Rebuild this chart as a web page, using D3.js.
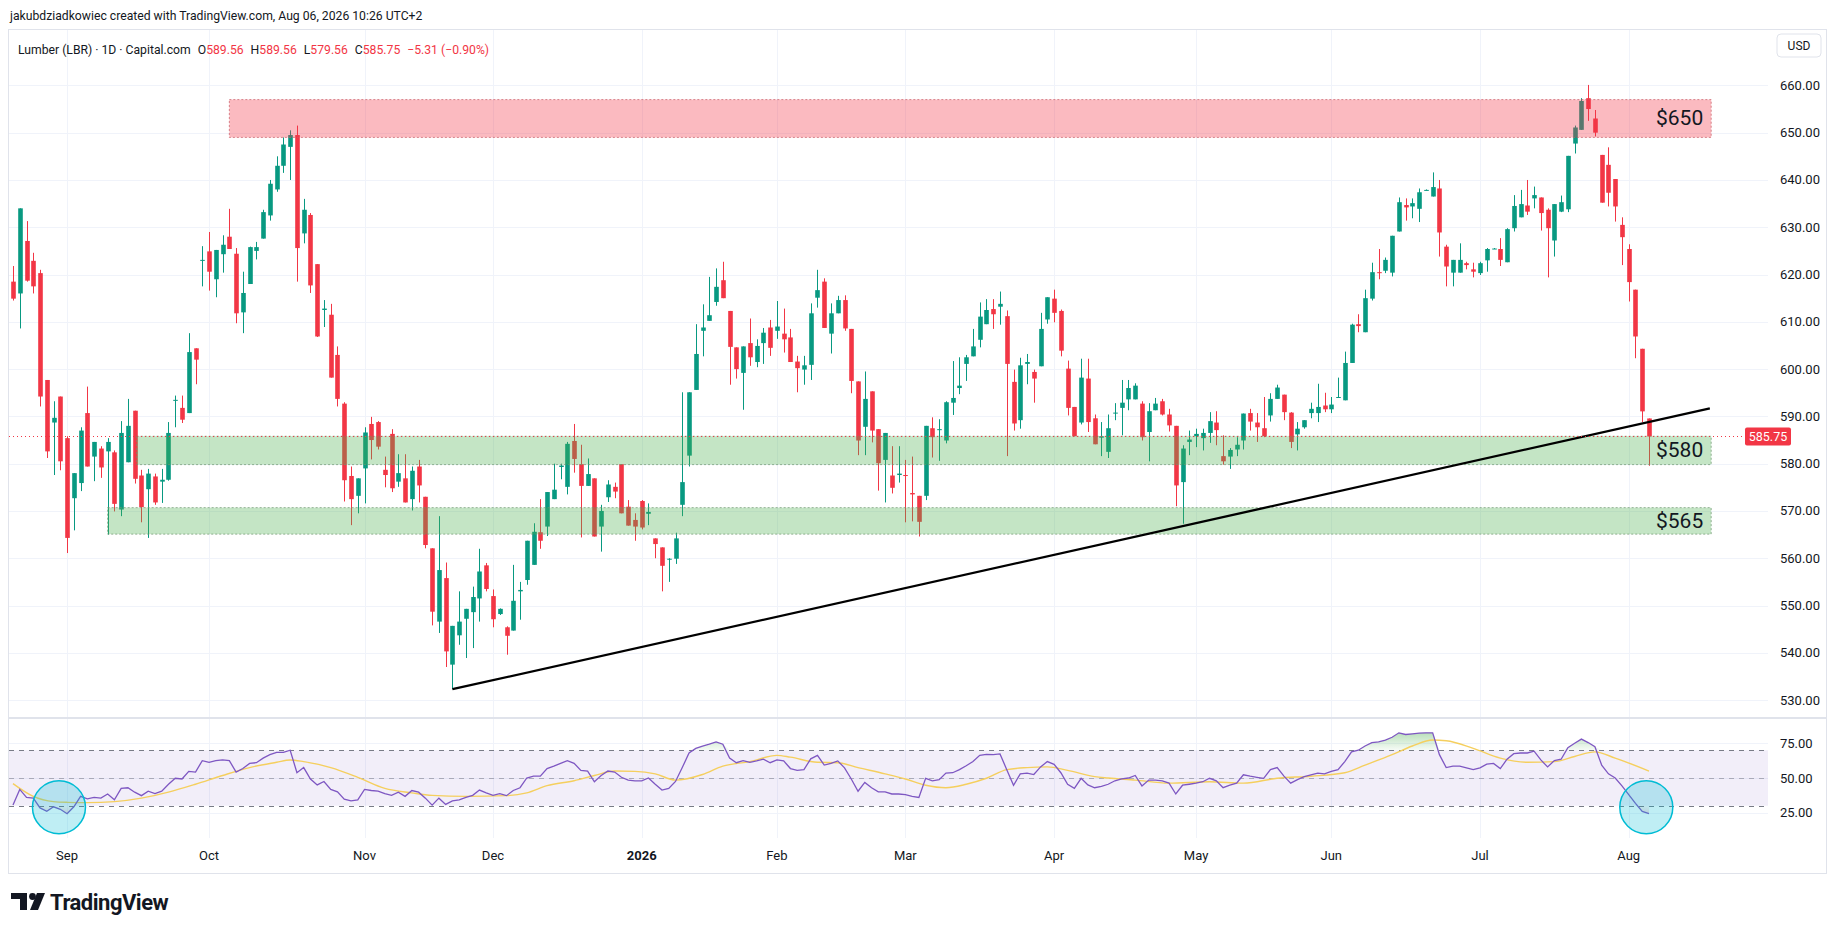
<!DOCTYPE html>
<html>
<head>
<meta charset="utf-8">
<script src="https://cdn.jsdelivr.net/npm/d3@7"></script>
<style>
  body { margin: 0; background: #fff; }
  svg { display: block; font-family: Roboto, "Noto Sans", sans-serif; }
</style>
</head>
<body>
<div id="chart"></div>
<script>
// Lumber (LBR) daily candles, Aug 20 2025 -> Aug 06 2026
const opens = [
  618.5,616,627.1,622.9,620.3,597.7,588.7,594.2,585.4,572.7,
  575.9,590.7,581.5,583.2,582.6,582.4,570.3,580.3,591.2,577.5,
  574.6,577.3,576.2,576.6,593.3,591.8,590.7,604.4,622.9,624.9,
  619,624.3,628,624.4,612,618,625,627.6,632.5,638,
  643,647,649.5,628.7,632.6,622.2,612.5,611.5,603,592.7,
  577.4,573.2,579,588.4,588.8,578.7,586.3,576.2,576.9,572.5,
  579.4,573,562.1,546.6,555.8,537.5,543.7,547.2,548.6,551.5,
  558.5,552,548.2,545.4,544.7,553,555.4,558.6,565.5,566.7,
  572.5,579.3,575.1,584.8,579.9,575.3,576.9,566.7,572.9,575.1,
  579.9,570.9,568.1,572.1,569.4,564.2,562.3,559.7,559.9,571.3,
  581.7,595.6,608.1,610.2,614.2,618.8,612.3,604.6,599.2,605.5,
  601.5,605.5,608.8,608.1,607.5,606.7,601.6,599.9,600.9,615.1,
  618.5,607.5,611.8,614.6,608.5,597.4,587.8,595.3,587.3,580.8,
  577.5,577.6,577.6,573.8,573.2,573.2,587.5,587.1,584.9,592.9,
  596,601.1,602.7,606.2,609.5,612.7,613.2,611.2,597.3,589.2,
  601.1,599.4,600.6,610.5,614.9,612.3,600.1,592,588.7,598,
  589.6,585.5,582.5,590.6,591.8,593.6,593.6,592.7,586.7,591.3,
  593.2,590.4,588,576.1,584.6,585.8,585.4,586.5,588.7,581.6,
  581.5,583,584.9,590.7,588.7,587.5,590.2,593.7,594.6,590.8,
  586.2,587.7,590.7,590.7,592.3,591.5,593.9,593.4,601.3,609.5,
  607.8,614.9,620.5,620.8,620.4,629.1,634.7,634.4,633.9,637.8,
  636.5,638.2,625.9,620.4,620.4,622.4,621.1,620.3,623,625.4,
  625.4,622.6,629.8,632.1,634.6,636.1,636.3,633.7,627.2,633.3,
  633.8,647.7,650.6,657.3,653,645.3,643.2,640.2,630.5,625.4,
  616.8,604.3,589.56
];
const highs = [
  621.8,634,631.3,624.6,621,597.7,593.2,594.2,585.8,578,
  587.7,596.3,584.6,583.7,585.4,582.8,589,593.7,591.2,578.7,
  578.9,577.9,578.9,588.8,594.4,594.4,607.6,604.4,626,629,
  625.2,628.3,633.9,625.6,620.6,625.9,626.9,633.7,640,645,
  649,650.5,651.5,636,633,622.2,614.6,613.8,604.8,593,
  579.4,576.9,587.7,589.9,589,581.5,587.3,582,582,579.4,
  580.8,573,562.1,568.9,559.1,545.7,553,549.3,554,562,
  559,553.4,549.4,545.6,558.6,555,563.7,567.4,572.5,574,
  580,580,584.6,588.4,584,581.1,576.9,571.3,576.5,576,
  579.9,572.3,569.5,572.3,571.6,564.2,562.3,560,565.4,595.1,
  595.1,609.5,613.7,619.5,621.3,622.7,612.3,604.6,604.8,610.7,
  606.3,608.7,610.4,614.4,612.8,608.5,602.8,602.8,613.9,621,
  619.2,613.9,615.5,615.6,608.5,597.4,599.5,595.3,587.3,586.5,
  583.7,583.7,580.8,581.5,573.2,588,589.8,589.4,593.2,601.7,
  602.5,603,608.5,614.1,614.8,614.8,616.4,612.4,599.9,602.4,
  603.2,599.9,611.9,615.2,616.8,612.6,601.8,592,602.2,602.2,
  590.4,588.8,590.4,592.8,597.7,597.7,597,593.2,592.8,593.9,
  593.7,591.6,588,583.9,587,587.4,587.4,590.9,591.1,586,
  583.3,585.6,590.6,591.6,590.7,594.1,594.9,596.7,594.6,590.9,
  588.8,589.2,592.9,596.9,595,594.1,598.2,603.7,609.6,611.6,
  616.8,622.5,625.4,623.6,628.2,636.3,636.1,636.1,638.2,638,
  641.6,640,626.3,623.1,626.6,622.7,622.5,622.7,625.6,625.6,
  627.7,629.8,636.8,637.9,640,638.6,636.3,634,634.9,636.7,
  645.1,651.5,657.3,660.1,654.8,645.3,646.9,640.2,632.1,626.4,
  616.8,604.3,589.56
];
const lows = [
  614.5,608.6,618.5,616,592.1,581.2,577.6,578.6,561.1,565.9,
  574.2,579.4,576.3,577,565,569.9,568.9,580.3,575.8,567.6,
  564.3,571.3,571.7,576.4,587.7,588.6,590.7,596.8,617.5,616.6,
  615.2,620.4,625.4,609.7,607.6,618,623.2,627.6,631.4,637.5,
  641.5,640,618.5,626.6,616.1,606.8,608.9,598.2,592.1,572,
  567,569.5,571.6,580.9,583,575,574,575.1,571.8,570.1,
  571.8,562.1,545.8,544.2,537,532.3,541.7,538.9,541,546.6,
  553,545.4,548,539.6,544.7,547,554.4,558.6,562,564.7,
  572.5,576.7,573.5,578.1,564.4,575.3,564.6,561.4,571.9,572.7,
  569.5,566.9,563.7,566.1,567,560,553,555,558.8,568.9,
  579.4,595.6,602.7,610.2,613.4,615,596.7,598,591.4,600.7,
  600.4,601.1,602.8,606.4,603.5,601.5,595.1,596.7,597.7,613,
  608.7,603.3,611.8,608.1,594.9,581.8,581.8,584.5,574.3,571.8,
  573.7,576,567.6,567.8,564.6,572.3,581.3,580.6,584.3,590.3,
  594.7,597.5,602.7,604.6,609.5,608.5,609.4,581.6,587,587.4,
  596.8,592.9,600.6,609.6,609.9,602.7,590.2,585.8,588.3,586.7,
  584.1,581.6,581.2,589.2,586,591.3,593.6,584.9,580.5,591.3,
  590.2,586.8,571,567.3,581.8,583.5,582.8,584.4,583.9,579.8,
  578.9,581.6,583,587,584.6,585.6,588.9,593.7,589.2,583.3,
  582.8,587.4,589.6,588.8,590.9,590.7,593.9,593.4,601.3,607.8,
  607.8,614.5,619,620.3,619.6,629.1,631.4,631.9,631.1,637.8,
  636.5,623.8,617.5,617.5,620.4,621.1,619.4,619.9,620.6,625.4,
  621.8,622.6,629.1,632.1,632.6,634,629.3,619.4,623.8,633.2,
  633.2,645.6,650.6,652.5,649.2,635.2,634.4,631.2,622,614.3,
  602.3,588.8,579.56
];
const closes = [
  614.9,634,618.7,617.5,594.2,582.6,589.7,580.5,564.3,578,
  587,579.4,584.6,579.2,584.6,571.5,586.5,588,576.8,570.8,
  577.9,571.8,576.6,586.5,593.5,589.3,603.6,602,623.1,620.6,
  625.2,626.3,625.4,611.8,616.1,625.8,625.8,633.2,639.2,643,
  647.5,649.5,625.6,633.7,617.7,606.9,612.8,598.2,593.7,576.5,
  572.5,576.9,586.6,585,583.6,577.6,574.8,578,571.8,578.5,
  575.4,562.8,548.7,557.5,540.3,545.7,546.6,549.3,551.8,557.2,
  553.5,547.1,549.3,543.6,551,553.3,563.7,565.6,563.7,574,
  574.5,579.6,584.2,581,575.3,577.8,564.6,570,575.6,574.1,
  569.5,566.9,566.7,566.5,569.8,563,558.4,559.9,564.2,576.1,
  595.1,603.2,608.8,611.4,617.4,615,604.7,600,604.8,602.5,
  604.9,607.7,604.5,609,606.3,601.5,600.2,600.8,611.8,616.7,
  608.7,611.8,614.6,608.6,597.5,584.9,593.7,587,580.1,586.5,
  574.9,577.9,577.4,573.5,567.7,588,585.6,587.3,593,593.9,
  596.5,602.5,604.8,611.1,612.5,611.6,613.8,601.1,588.5,600.8,
  601.5,598,608.5,615.2,611.9,603.9,591.8,585.8,598.2,588.8,
  584.1,585.8,587.5,590.8,592.9,596,596.5,585.6,591.1,592.7,
  590.4,588.1,575.4,583.2,585.1,586.3,586.5,589,587.1,580.5,
  582.9,584,590.6,588.9,587.7,585.8,593.7,596.1,590.9,584.6,
  587.4,589.2,591.6,592,591.5,592.5,594.1,601.3,609.4,609.1,
  615,620.5,620.3,623.1,628.2,635.3,634.2,635.1,637.4,637.9,
  638.5,628.9,621.7,623.1,623.1,622,620.6,622.4,625.4,625.5,
  623.1,629.6,634.5,634.9,633.3,636.8,633,629.8,634.9,635.3,
  645.1,651.1,656.7,655,650,635.2,637.3,634.4,627.9,618.4,
  606.9,591.06,585.75
];

// RSI (14) per bar
const rsiValues = [
  30.5,41.8,36,35.5,28.5,26,29.3,27.5,24.3,29.3,
  36.8,35,36,35.5,38.5,34.3,42.5,43,39.8,37.3,
  40.5,38.8,40.5,45.5,49.8,49.3,54.8,54.3,62.5,61.3,
  62.5,63,62.5,54.3,56.8,60.5,61,64.3,66.8,68.5,
  68.5,70,53.8,57.5,49.3,45,47.5,41.8,40,34.8,
  33.5,34.3,41.8,41,40.5,38.8,37.5,39.8,36.8,41,
  39.8,35.5,30.5,35.5,31,33.5,34.3,36,37.5,41.3,
  39.3,37.5,38.8,37.3,41,43,50,51.3,51.3,56.8,
  58.5,60.5,62.5,60.5,55.5,55,47.3,51.8,55,54.3,
  50.5,48.5,48,48,50,45.5,41.3,42.5,47.5,57.5,
  68,71.3,73,74.3,76,74.3,64.3,61,62.5,61.3,
  62.3,63.5,61,63,62.3,56.8,55.5,56,63.8,66.3,
  59.3,60.5,62.3,57.3,49.3,40.5,46.8,43,40,40,
  38.5,38.5,38,36.8,36,49.8,48,48.8,53.5,53.8,
  56,58.8,61.8,66.3,67,66.8,67.3,56,44.8,53,
  53.5,52.5,58,61.8,59.8,53.8,45.5,42.5,49.8,45,
  43,44,45.5,48,49.3,50,51.8,44.3,48.5,48.5,
  48,46.3,38.5,44.8,45.5,46.3,47.3,49.8,48,43,
  44.8,46.3,52.3,51.3,50.5,49.8,56,57.5,51.3,46.3,
  48.8,51,52.3,53.5,53,54.8,56,61.8,68.8,70,
  73,75.5,76,77.3,79.3,82.5,81.3,81.8,82.3,82.5,
  82.5,66.8,57.5,58.5,58.5,57.3,56,57.3,60,60.5,
  56.8,63.5,67.5,68,68,69.3,63,58,62.5,63.5,
  71.8,75,78,75.5,72.5,59.3,53,50,44.3,38,
  31.8,26,24.3
];
// RSI-based moving average, [bar, value] read at points along the yellow curve
const rsiMaPoints = [
  [0,46],[3,36.8],[6,33],[8,32.5],[11,32.3],[15,33],[19,35.5],[23,39.8],[27,45.5],[31,51.8],
  [35,57.5],[39,61.3],[41,63],[43,61.8],[47,57.5],[51,50.5],[55,42.5],[59,39.3],[62,37.5],[67,36.8],
  [73,37.3],[76,39.3],[79,44.5],[83,48],[86,51.8],[89,55],[92,54.8],[95,53],[98,48.5],[102,52.5],
  [105,58.5],[109,61.8],[113,66.3],[115,65],[119,61.3],[122,61],[125,57.5],[129,53],[132,49.3],[135,44.8],
  [138,43],[141,45.5],[144,49.8],[147,56],[150,57.5],[153,58],[156,55.5],[160,51],[162,50],[166,48.5],
  [171,46.3],[177,47.3],[182,46.3],[187,49.8],[192,51.3],[197,53.8],[200,59.3],[204,66.8],[207,73],[210,77.3],
  [212,76.8],[216,71.3],[220,64.3],[224,61.3],[228,61.8],[231,65.5],[234,68.8],[237,64.3],[242,55]
];

const monthLabels = ["Sep","Oct","Nov","Dec","2026","Feb","Mar","Apr","May","Jun","Jul","Aug"];
const monthBars = [8,29,52,71,93,113,132,154,175,195,217,239];
const priceTicks = [530,540,550,560,570,580,590,600,610,620,630,640,650,660];
const rsiTicks = [25,50,75];
const rsiLevels = [70,50,30];

// drawings
const zoneLabels = ["$650","$580","$565"];
const zoneLow = [649,579.8,565.1];
const zoneHigh = [657,585.8,570.7];
const zoneFrom = [32,18.3,14];
const zoneTo = [251.2,251.2,251.2];
const trendBars = [65,251];
const trendPrices = [532.3,591.7];
const circleBars = [6.8,241.6];
const circleRsi = [29,29];

const W = 1835, H = 931;
const GREEN = "#089981", RED = "#F23645", TXT = "#131722";
const N = closes.length;

const svg = d3.select("#chart").append("svg")
  .attr("width", W).attr("height", H)
  .attr("viewBox", [0, 0, W, H]);

const x = d3.scaleLinear().domain([0, N - 1]).range([13, 1649]);
const y = d3.scaleLinear().domain([530, 660]).range([700.1, 85.4]);
const yR = d3.scaleLinear().domain([30, 70]).range([805.8, 750.2]);

const frameL = 9, frameR = 1826, plotR = 1768;
const frameT = 30, mainB = 717, rsiT = 719, rsiB = 838, frameB = 873;

svg.append("rect").attr("width", W).attr("height", H).attr("fill", "#fff");

const defs = svg.append("defs");
defs.append("clipPath").attr("id", "clipMain").append("rect")
  .attr("x", frameL).attr("y", frameT).attr("width", plotR - frameL).attr("height", mainB - frameT);
defs.append("clipPath").attr("id", "clipRsi").append("rect")
  .attr("x", frameL).attr("y", rsiT).attr("width", plotR - frameL).attr("height", rsiB - rsiT);
const gradUp = defs.append("linearGradient").attr("id", "obFill")
  .attr("gradientUnits", "userSpaceOnUse").attr("x1", 0).attr("x2", 0)
  .attr("y1", yR(85)).attr("y2", yR(70));
gradUp.append("stop").attr("offset", 0).attr("stop-color", "rgba(76,175,80,0.45)");
gradUp.append("stop").attr("offset", 1).attr("stop-color", "rgba(76,175,80,0.05)");
const gradDn = defs.append("linearGradient").attr("id", "osFill")
  .attr("gradientUnits", "userSpaceOnUse").attr("x1", 0).attr("x2", 0)
  .attr("y1", yR(30)).attr("y2", yR(15));
gradDn.append("stop").attr("offset", 0).attr("stop-color", "rgba(242,54,69,0.05)");
gradDn.append("stop").attr("offset", 1).attr("stop-color", "rgba(242,54,69,0.4)");

// header
svg.append("text").attr("x", 10).attr("y", 20).attr("font-size", 12.2).attr("fill", TXT)
  .text("jakubdziadkowiec created with TradingView.com, Aug 06, 2026 10:26 UTC+2");

// frame
svg.append("rect").attr("x", frameL - 0.5).attr("y", frameT - 0.5)
  .attr("width", frameR - frameL + 1).attr("height", frameB - frameT + 1)
  .attr("fill", "none").attr("stroke", "#e0e3eb");

// grid
const grid = svg.append("g").attr("stroke", "#f0f3fa").attr("stroke-width", 1);
grid.selectAll("line.h").data(priceTicks).join("line")
  .attr("x1", frameL).attr("x2", plotR)
  .attr("y1", d => Math.round(y(d)) + 0.5).attr("y2", d => Math.round(y(d)) + 0.5);
grid.append("g").selectAll("line").data(rsiTicks).join("line")
  .attr("x1", frameL).attr("x2", plotR)
  .attr("y1", d => Math.round(yR(d)) + 0.5).attr("y2", d => Math.round(yR(d)) + 0.5);
grid.append("g").selectAll("line").data(monthBars).join("line")
  .attr("x1", d => Math.round(x(d)) + 0.5).attr("x2", d => Math.round(x(d)) + 0.5)
  .attr("y1", frameT).attr("y2", rsiB);

// pane separator
svg.append("line").attr("x1", frameL).attr("x2", frameR).attr("y1", mainB + 1).attr("y2", mainB + 1)
  .attr("stroke", "#e0e3eb").attr("stroke-width", 2);

// legend
const legend = svg.append("text").attr("x", 18).attr("y", 54).attr("font-size", 12.2).attr("fill", TXT);
const last = N - 1;
const chg = closes[last] - closes[last - 1];
const sign = v => (v < 0 ? "\u2212" : "+");
const legendParts = [
  ["Lumber (LBR) · 1D · Capital.com", TXT, 0],
  ["O", TXT, 7], [opens[last].toFixed(2), RED, 0],
  ["H", TXT, 7], [highs[last].toFixed(2), RED, 0],
  ["L", TXT, 7], [lows[last].toFixed(2), RED, 0],
  ["C", TXT, 7], [closes[last].toFixed(2), RED, 0],
  [sign(chg) + Math.abs(chg).toFixed(2) + " (" + sign(chg) +
    Math.abs(chg / closes[last - 1] * 100).toFixed(2) + "%)", RED, 7]
];
legend.selectAll("tspan").data(legendParts).join("tspan")
  .attr("dx", d => d[2]).attr("fill", d => d[1]).text(d => d[0]);

// candles
const bars = d3.range(N).map(i => ({ i, o: opens[i], h: highs[i], l: lows[i], c: closes[i] }));
const main = svg.append("g").attr("clip-path", "url(#clipMain)");
const bw = 4.6;
main.append("g").selectAll("line").data(bars).join("line")
  .attr("x1", d => Math.round(x(d.i)) + 0.5).attr("x2", d => Math.round(x(d.i)) + 0.5)
  .attr("y1", d => y(d.h)).attr("y2", d => y(d.l))
  .attr("stroke", d => d.c >= d.o ? GREEN : RED).attr("stroke-width", 1);
main.append("g").selectAll("rect").data(bars).join("rect")
  .attr("x", d => Math.round(x(d.i)) + 0.5 - bw / 2)
  .attr("y", d => y(Math.max(d.o, d.c)))
  .attr("width", bw)
  .attr("height", d => Math.max(1, Math.abs(y(d.o) - y(d.c))))
  .attr("fill", d => d.c >= d.o ? GREEN : RED);

// zones
const zones = zoneLabels.map((label, k) => ({
  label, lo: zoneLow[k], hi: zoneHigh[k], from: zoneFrom[k], to: zoneTo[k], up: k === 0
}));
const zg = main.append("g");
zg.selectAll("rect").data(zones).join("rect")
  .attr("x", d => x(d.from)).attr("width", d => x(d.to) - x(d.from))
  .attr("y", d => y(d.hi)).attr("height", d => y(d.lo) - y(d.hi))
  .attr("fill", d => d.up ? "rgba(242,54,69,0.34)" : "rgba(76,175,80,0.33)")
  .attr("stroke", d => d.up ? "rgba(200,90,100,0.7)" : "rgba(110,150,110,0.7)")
  .attr("stroke-dasharray", "2,2").attr("stroke-width", 1);
zg.selectAll("text").data(zones).join("text")
  .attr("x", d => x(d.to) - 8).attr("y", d => (y(d.hi) + y(d.lo)) / 2 + 7)
  .attr("text-anchor", "end").attr("font-size", 21).attr("fill", TXT)
  .text(d => d.label);

// trend line
main.append("line")
  .attr("x1", x(trendBars[0])).attr("y1", y(trendPrices[0]))
  .attr("x2", x(trendBars[1])).attr("y2", y(trendPrices[1]))
  .attr("stroke", "#000").attr("stroke-width", 2.3);

// last price line and label
const lp = closes[last];
svg.append("line").attr("x1", frameL).attr("x2", 1745)
  .attr("y1", Math.round(y(lp)) + 0.5).attr("y2", Math.round(y(lp)) + 0.5)
  .attr("stroke", RED).attr("stroke-dasharray", "1,3");
svg.append("rect").attr("x", 1745).attr("y", y(lp) - 9).attr("width", 46).attr("height", 18)
  .attr("rx", 2).attr("fill", RED);
svg.append("text").attr("x", 1768).attr("y", y(lp) + 4.5).attr("text-anchor", "middle")
  .attr("font-size", 12.5).attr("fill", "#fff").text(lp.toFixed(2));

// price axis
svg.append("g").selectAll("text").data(priceTicks).join("text")
  .attr("x", 1780).attr("y", d => y(d) + 4.5).attr("font-size", 13).attr("fill", TXT)
  .text(d => d.toFixed(2));
svg.append("rect").attr("x", 1777).attr("y", 34).attr("width", 44).attr("height", 23).attr("rx", 4)
  .attr("fill", "#fff").attr("stroke", "#e0e3eb");
svg.append("text").attr("x", 1799).attr("y", 50).attr("text-anchor", "middle")
  .attr("font-size", 12).attr("fill", TXT).text("USD");

// RSI pane
const rsiG = svg.append("g").attr("clip-path", "url(#clipRsi)");
rsiG.append("rect").attr("x", frameL).attr("width", plotR - frameL)
  .attr("y", yR(70)).attr("height", yR(30) - yR(70)).attr("fill", "rgba(126,87,194,0.1)");
rsiG.append("g").selectAll("line").data(rsiLevels).join("line")
  .attr("x1", frameL).attr("x2", plotR)
  .attr("y1", d => Math.round(yR(d)) + 0.5).attr("y2", d => Math.round(yR(d)) + 0.5)
  .attr("stroke", d => d === 50 ? "rgba(120,123,134,0.55)" : "#787b86")
  .attr("stroke-dasharray", "5,5");
rsiG.append("path").datum(rsiValues)
  .attr("fill", "url(#obFill)")
  .attr("d", d3.area().x((d, i) => x(i)).y0(yR(70)).y1(d => yR(Math.max(d, 70))));
rsiG.append("path").datum(rsiValues)
  .attr("fill", "url(#osFill)")
  .attr("d", d3.area().x((d, i) => x(i)).y0(yR(30)).y1(d => yR(Math.min(d, 30))));
rsiG.append("path").datum(rsiMaPoints)
  .attr("fill", "none").attr("stroke", "#f5cf5e").attr("stroke-width", 1.4)
  .attr("d", d3.line().x(d => x(d[0])).y(d => yR(d[1])).curve(d3.curveMonotoneX));
rsiG.append("path").datum(rsiValues)
  .attr("fill", "none").attr("stroke", "#7E57C2").attr("stroke-width", 1.3)
  .attr("d", d3.line().x((d, i) => x(i)).y(d => yR(d)));
rsiG.append("g").selectAll("circle").data(circleBars).join("circle")
  .attr("cx", d => x(d)).attr("cy", (d, k) => yR(circleRsi[k])).attr("r", 26.5)
  .attr("fill", "rgba(0,188,212,0.25)").attr("stroke", "#00bcd4").attr("stroke-width", 1.5);

svg.append("g").selectAll("text").data(rsiTicks).join("text")
  .attr("x", 1780).attr("y", d => yR(d) + 4.5).attr("font-size", 13).attr("fill", TXT)
  .text(d => d.toFixed(2));

// time axis
svg.append("g").selectAll("text").data(monthBars).join("text")
  .attr("x", d => x(d)).attr("y", 860).attr("text-anchor", "middle")
  .attr("font-size", 13).attr("fill", TXT)
  .attr("font-weight", (d, k) => monthLabels[k] === "2026" ? 700 : 400)
  .text((d, k) => monthLabels[k]);

// TradingView logo
const logo = svg.append("g").attr("fill", TXT);
logo.append("path").attr("d", "M11,893 H27 V910 H20 V899 H11 Z");
logo.append("circle").attr("cx", 32.5).attr("cy", 896.5).attr("r", 3.4);
logo.append("path").attr("d", "M37,893 H45 L38,910 H30 Z");
logo.append("text").attr("x", 50).attr("y", 910).attr("font-size", 22).attr("font-weight", 700)
  .attr("letter-spacing", -0.5).text("TradingView");
</script>
</body>
</html>
